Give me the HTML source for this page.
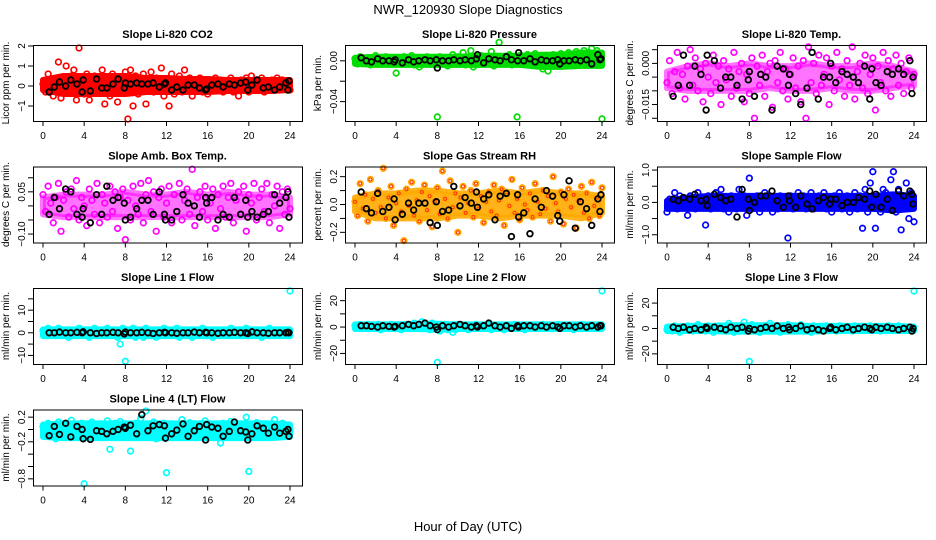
<!DOCTYPE html>
<html><head><meta charset="utf-8">
<style>
html,body{margin:0;padding:0;background:#fff;}
svg{display:block;font-family:"Liberation Sans",sans-serif;}
</style></head>
<body>
<svg id="chart" width="936" height="540" viewBox="0 0 936 540">
<text x="468" y="14" text-anchor="middle" font-size="13">NWR_120930  Slope Diagnostics</text>
<text x="468" y="531" text-anchor="middle" font-size="13">Hour of Day (UTC)</text>
</svg>
<script>
// shared tick labels
const xTicks = [0,4,8,12,16,20,24];
const blackHours = [0.6,1.1,1.6,2.2,2.7,3.3,3.8,3.9,4.6,5.2,5.7,6.2,6.8,7.3,7.9,8.0,8.5,9.1,9.6,10.2,10.7,11.3,11.8,11.9,12.5,13.0,13.6,14.1,14.7,15.2,15.8,15.9,16.4,17.0,17.5,18.1,18.6,19.2,19.7,19.9,20.3,20.8,21.4,21.9,22.5,23.0,23.6,23.8,23.9];
const bandHours = [0,2,4,6,8,10,12,14,16,18,20,22,24];

// panel values (colored = all slopes, black = selected)
const co2 = [0.1,-0.3,0.6,0.2,-0.5,0.3,1.2,-0.6,0.4,1.0,-0.2,0.5,0.8,-0.7,1.9,0.3,-0.4,0.6,-0.7,0.2,0.5,-0.3,0.4,0.8,-0.9,0.3,-0.5,0.6,0.1,-0.8,0.4,-0.2,0.7,-1.65,0.8,-1.0,0.5,-0.4,0.3,0.6,-0.9,0.2,0.7,-0.3,0.4,0.1,0.9,-0.5,0.3,-1.0,0.6,-0.4,0.2,0.5,-0.3,0.8,-0.2,0.4,-0.5,0.3,-0.2,0.4,-0.3,0.2,-0.4,0.3,-0.2,0.4,-0.1,0.3,-0.3,0.2,-0.2,0.4,-0.3,0.1,-0.5,0.3,-0.2,0.4,-0.3,0.5,-0.1,0.3,-0.2,0.4,-0.3,0.2,-0.1,0.3,-0.2,0.4,-0.2,0.3,-0.1,0.2,-0.2];
const co2Black = [-0.3,-0.05,0.2,0.0,0.3,0.1,-0.3,0.3,-0.25,0.35,-0.1,-0.1,0.1,0.35,-0.1,0.15,0.1,0.15,0.1,0.1,0.15,-0.05,0.1,0.15,-0.2,-0.05,-0.2,0.05,0.05,-0.1,-0.2,-0.15,0.05,0.1,-0.05,0.1,0.05,0.15,0.2,-0.2,0.05,0.3,-0.1,-0.05,-0.2,-0.05,0.15,-0.2,0.25];
const co2BandHi = [0.3,0.5,0.5,0.5,0.5,0.4,0.4,0.35,0.35,0.3,0.3,0.3,0.3];
const co2BandLo = [-0.2,-0.4,-0.4,-0.4,-0.4,-0.3,-0.3,-0.3,-0.3,-0.25,-0.25,-0.25,-0.2];

const pres = [0.002,-0.003,0.004,0.000,-0.002,0.003,-0.004,0.001,0.005,-0.002,0.003,-0.001,0.004,-0.003,0.002,0.000,-0.012,0.003,-0.002,0.004,-0.003,0.001,0.005,-0.004,0.002,-0.006,0.003,-0.002,0.004,0.000,-0.003,0.003,-0.055,0.004,-0.002,0.003,-0.005,0.002,0.006,-0.003,0.004,-0.001,0.008,-0.004,0.003,0.010,-0.006,0.002,-0.003,0.005,0.001,-0.002,0.004,0.009,-0.005,0.003,0.018,-0.003,0.004,-0.002,0.006,-0.004,0.003,-0.055,0.005,-0.003,0.002,0.006,-0.004,0.003,0.007,-0.002,0.004,-0.008,0.005,-0.010,0.003,0.006,-0.004,0.002,0.007,-0.005,0.004,0.008,-0.003,0.002,0.009,-0.004,0.006,0.010,-0.002,0.008,0.012,-0.003,0.010,0.006,-0.057];
const presBlack = [0.003,0.000,-0.001,0.002,0.000,0.000,-0.001,0.001,-0.002,0.001,-0.001,0.000,0.001,0.000,0.001,-0.007,0.000,0.000,0.001,0.000,0.001,0.000,0.002,0.006,-0.002,0.002,0.001,0.000,0.004,0.001,0.000,0.008,0.000,0.002,-0.001,0.001,0.000,0.000,0.001,-0.003,0.000,0.000,0.001,0.000,0.001,-0.003,0.006,0.001,0.002];
const presBandHi = [0.003,0.004,0.004,0.004,0.004,0.004,0.005,0.005,0.005,0.006,0.006,0.008,0.008];
const presBandLo = [-0.003,-0.004,-0.004,-0.004,-0.004,-0.004,-0.004,-0.004,-0.004,-0.006,-0.006,-0.005,-0.005];

const temp = [-0.007,0.001,-0.011,-0.003,0.004,-0.009,-0.004,-0.013,-0.001,0.005,-0.008,0.002,-0.010,-0.002,-0.014,0.000,-0.005,-0.011,0.003,-0.007,-0.001,-0.015,0.001,-0.006,-0.002,-0.012,0.004,-0.009,-0.003,0.000,-0.014,-0.004,-0.011,0.002,-0.020,-0.001,-0.008,0.003,-0.012,-0.003,0.000,-0.016,0.001,-0.007,0.004,-0.010,-0.002,-0.013,-0.004,0.002,-0.009,-0.001,-0.014,0.001,-0.020,0.006,-0.007,0.000,-0.011,0.003,-0.008,-0.004,0.002,-0.015,-0.001,-0.010,0.004,-0.006,-0.002,-0.012,0.001,-0.008,0.006,-0.013,-0.003,0.000,-0.009,0.003,-0.011,-0.004,0.002,-0.017,-0.001,-0.007,0.004,-0.010,0.001,-0.012,-0.002,0.003,-0.008,0.000,-0.011,-0.003,0.002,-0.009,-0.004];
const tempBlack = [-0.012,-0.008,0.003,-0.008,-0.001,-0.004,-0.017,0.003,0.001,-0.009,-0.005,-0.005,-0.008,-0.013,-0.006,-0.003,-0.012,-0.004,-0.005,-0.017,-0.001,-0.002,-0.008,-0.004,-0.011,-0.015,-0.009,0.004,-0.013,-0.005,-0.005,0.000,-0.007,-0.003,-0.004,-0.005,-0.007,-0.001,-0.013,-0.002,-0.007,-0.008,-0.003,-0.004,-0.002,-0.004,0.001,-0.011,-0.005];
const tempBandHi = [-0.003,-0.001,0.000,-0.001,0.000,-0.001,-0.001,0.000,-0.001,-0.001,0.000,-0.001,-0.003];
const tempBandLo = [-0.009,-0.010,-0.010,-0.010,-0.010,-0.009,-0.010,-0.010,-0.009,-0.010,-0.010,-0.009,-0.008];

const amb = [0.04,-0.02,0.07,0.01,-0.06,0.03,0.08,-0.09,0.02,0.05,-0.04,0.06,-0.01,0.09,-0.05,0.03,0.00,-0.07,0.06,0.02,-0.03,0.08,-0.06,0.04,0.01,-0.04,0.07,-0.02,0.05,-0.08,0.03,0.06,-0.12,0.02,-0.05,0.07,0.00,-0.03,0.08,-0.06,0.04,0.09,-0.02,0.05,-0.09,0.03,0.06,-0.04,0.01,0.07,-0.06,0.04,-0.02,0.08,-0.05,0.02,0.06,-0.03,0.13,-0.07,0.03,0.05,-0.02,0.07,-0.05,0.01,0.06,-0.08,0.04,-0.01,0.07,-0.04,0.03,0.08,-0.06,0.02,0.05,-0.03,0.07,-0.09,0.04,0.01,0.08,-0.05,0.03,0.06,-0.02,0.08,-0.06,0.04,0.00,0.07,-0.08,0.05,-0.03,0.06,-0.01];
const ambBlack = [-0.03,0.03,-0.01,0.06,0.05,-0.03,-0.04,-0.01,-0.06,0.04,-0.03,0.07,0.02,0.03,0.01,-0.05,-0.04,-0.01,0.02,0.02,-0.03,0.05,-0.03,-0.05,-0.05,-0.02,0.04,0.01,0.00,-0.04,0.03,0.01,0.03,-0.05,-0.03,-0.04,0.03,-0.03,0.02,-0.04,-0.02,-0.04,-0.03,-0.02,0.04,0.01,0.03,0.05,-0.04];
const ambBandHi = [0.03,0.04,0.04,0.04,0.05,0.04,0.04,0.05,0.04,0.05,0.04,0.04,0.03];
const ambBandLo = [-0.03,-0.04,-0.04,-0.04,-0.04,-0.04,-0.04,-0.04,-0.04,-0.04,-0.04,-0.04,-0.03];

const rh = [0.02,-0.08,0.15,-0.03,0.07,-0.12,0.18,0.04,-0.06,0.10,-0.02,0.26,-0.10,0.05,0.13,-0.15,0.01,0.08,-0.05,-0.26,0.11,-0.01,0.16,-0.08,0.03,-0.12,0.09,0.14,-0.04,0.06,-0.16,0.02,0.12,-0.07,0.24,0.04,-0.10,0.17,-0.02,0.08,-0.20,0.05,0.13,-0.06,0.01,0.10,-0.09,0.15,-0.03,0.06,-0.13,0.02,0.09,-0.05,0.14,-0.08,0.03,0.11,-0.15,0.07,-0.01,0.18,-0.06,0.04,-0.11,0.12,0.00,-0.04,0.08,-0.09,0.15,0.02,-0.07,0.10,-0.03,0.06,-0.12,0.20,0.01,-0.05,0.09,-0.14,0.04,0.11,-0.02,0.07,-0.17,0.03,0.13,-0.06,0.08,-0.10,0.16,-0.01,0.05,-0.08,0.12];
const rhBlack = [0.09,-0.03,-0.06,0.08,-0.05,-0.02,0.04,-0.11,-0.07,0.01,-0.04,0.01,0.01,-0.13,0.02,-0.15,-0.05,-0.04,0.13,-0.01,0.05,0.01,0.09,-0.02,0.04,0.07,-0.11,0.06,0.08,-0.23,0.07,-0.09,-0.06,-0.21,0.04,-0.02,0.10,0.06,-0.08,-0.12,0.07,0.17,-0.17,0.02,-0.03,-0.15,0.04,-0.05,0.07];
const rhBandHi = [0.05,0.08,0.08,0.1,0.1,0.08,0.08,0.1,0.08,0.1,0.08,0.08,0.06];
const rhBandLo = [-0.05,-0.1,-0.1,-0.1,-0.1,-0.08,-0.08,-0.1,-0.08,-0.08,-0.08,-0.1,-0.06];

const sflow = [-0.3,0.1,-0.1,0.3,-0.2,0.2,-0.1,0.1,-0.4,0.2,0.0,-0.2,0.3,-0.1,0.1,-0.7,0.2,-0.2,0.1,0.3,-0.1,0.4,-0.2,0.1,-0.3,0.2,0.0,-0.2,0.4,-0.1,0.2,-0.4,0.75,-0.2,0.1,0.2,-0.3,0.0,0.3,-0.1,0.2,-0.3,0.1,-0.2,0.2,0.0,-0.1,-1.1,0.2,-0.2,0.1,0.3,-0.1,0.2,-0.2,0.0,0.3,-0.2,0.1,0.2,-0.1,0.3,-0.2,0.1,-0.3,0.2,0.0,0.3,-0.2,0.1,0.2,-0.3,0.0,0.3,-0.2,0.2,-0.8,0.4,-0.3,0.6,0.95,-0.8,0.2,-0.3,0.4,0.3,-0.2,0.7,0.95,-0.3,0.4,-0.85,0.2,0.6,-0.5,0.3,-0.6];
const sflowBlack = [0.1,0.05,0.15,0.1,0.25,0.05,0.1,-0.1,0.25,0.15,0.05,0.1,-0.45,0.4,0.1,-0.25,0.0,0.2,0.2,0.35,0.05,-0.15,0.2,0.05,-0.15,0.2,-0.05,-0.2,0.05,0.15,-0.05,0.1,0.1,-0.1,0.0,0.0,0.15,0.1,0.35,-0.15,0.25,-0.15,0.1,-0.25,0.35,0.2,0.35,0.25,-0.05];
const sflowBandHi = [0.05,0.15,0.2,0.2,0.2,0.2,0.2,0.2,0.2,0.2,0.2,0.25,0.2];
const sflowBandLo = [-0.2,-0.2,-0.2,-0.2,-0.2,-0.2,-0.2,-0.2,-0.2,-0.2,-0.2,-0.25,-0.2];

const line1 = [1,-1,2,0,-1,1,2,-1,0,1,-2,1,0,-1,2,-1,1,0,-2,1,2,-1,0,1,-1,2,0,-1,1,-2,-5,2,-12.6,1,-1,2,-2,0,1,-2,2,-1,0,1,-2,1,0,2,-1,1,-1,0,2,-2,1,0,-1,1,-2,1,0,-1,2,0,-1,1,-2,1,0,-1,1,0,-1,2,-1,0,1,-1,0,2,-1,1,0,-1,1,-2,1,0,2,-1,1,0,-1,1,0,-1,18.5];
const line1Black = [0,0,0.3,0,0,0.2,0,0.4,0,-0.3,0,0,0.2,0,-0.5,0.3,0,0,0.2,0,-0.3,0,0.2,0,0,-0.2,0,0,0.3,0,0.2,0,0,-0.2,0,0,0.2,0,0,-0.3,0.4,0,0,-0.2,0,0,0,0.2,0];
const line1BandHi = [1.5,1.5,1.5,1.5,1.5,1.5,1.5,1.5,1.5,1.5,1.5,1.5,1.5];
const line1BandLo = [-1.5,-1.5,-1.5,-1.5,-1.5,-1.5,-1.5,-1.5,-1.5,-1.5,-1.5,-1.5,-1.5];
const line2 = [1,-1,2,0,-1,2,1,-1,0,2,-2,1,0,-1,2,-1,1,0,-2,1,2,-1,0,3,-1,2,4,-1,1,-2,3,2,-26.8,-3,-1,2,-2,0,-4,-2,2,-1,0,1,-2,1,0,2,-1,1,-1,0,2,-2,1,0,-1,1,-2,1,0,-1,2,0,-1,1,-2,1,0,-1,1,0,-1,2,-1,0,1,-1,0,2,-1,1,0,-1,1,-2,1,0,2,-1,1,0,-1,1,0,-1,27.4];
const line2Black = [1,1,0.5,0,1,0.5,0,0.5,1,2,1,2,3,1,0,-2,1,0,1,2,1,0,1,0,1,3,1,0,1,-1,1,0,1,1,0,1,0,1,0,-1,1,1,0,1,0,1,0,1,1];
const line2BandHi = [2,2,2,2.5,2.5,2,2,2,2,2,2,2,2];
const line2BandLo = [-1.5,-1.5,-1.5,-1.5,-2,-1.5,-1.5,-1.5,-1.5,-1.5,-1.5,-1.5,-1.5];
const line3 = [-1,1,-2,2,0,-3,1,-1,2,0,-2,1,3,-1,0,-2,2,1,-3,0,2,-1,1,-2,4,0,-3,2,1,-1,5,-2,-26,3,-1,2,-3,0,1,-2,4,-1,0,2,-3,1,0,3,-1,2,-2,0,3,-2,1,0,-3,2,-1,1,0,-2,2,0,-1,1,-2,2,0,-1,1,0,-2,2,-1,0,1,-1,0,2,-1,1,0,-2,1,-1,2,0,1,-1,2,0,-1,1,0,-1,29.5];
const line3Black = [1,0,1,-1,0,-1,1,0,1,0,-1,1,0,1,-2,0,-1,0,1,0,2,0,1,-1,0,2,-1,0,-1,-2,0,1,-1,0,1,-1,0,1,0,-1,1,0,1,0,-1,0,1,-2,0];
const line3BandHi = [1.5,2,2,2.5,2.5,2.5,2.5,2,2,2,2,2,1.5];
const line3BandLo = [-2,-2,-2,-2.5,-2.5,-2.5,-2.5,-2.5,-2,-2,-2,-2,-2];
const line4 = [0.05,-0.10,0.10,-0.05,0.02,-0.15,0.12,-0.02,0.08,-0.12,0.04,0.15,-0.06,0.00,-0.13,0.10,-0.88,0.06,-0.08,0.12,-0.03,0.05,-0.10,0.08,-0.05,0.14,-0.32,0.02,0.10,-0.06,0.13,-0.08,0.04,-0.12,-0.35,0.06,0.10,-0.04,0.18,-0.02,0.30,-0.09,0.07,0.12,-0.15,0.03,-0.05,0.10,-0.70,0.02,0.08,-0.10,0.05,-0.03,0.16,-0.07,0.04,0.11,-0.12,0.06,-0.02,0.09,-0.05,0.14,-0.08,0.02,-0.10,0.07,-0.04,-0.22,0.10,-0.06,0.04,0.13,-0.09,0.01,-0.12,0.08,-0.03,0.20,-0.68,0.05,-0.08,0.11,-0.02,0.06,-0.12,0.09,0.01,-0.05,0.16,-0.07,0.03,0.10,-0.11,0.05,-0.02];
const line4Black = [-0.1,0.05,-0.08,0.1,-0.12,0.05,0.0,-0.15,-0.16,-0.02,-0.03,-0.07,-0.03,0.0,0.04,0.02,0.07,-0.07,0.24,-0.02,0.06,0.08,0.06,-0.14,-0.07,-0.01,0.09,-0.11,-0.02,0.05,-0.17,0.08,0.04,0.02,-0.11,-0.03,0.12,-0.02,-0.04,-0.17,-0.07,0.06,0.02,-0.06,0.04,-0.06,-0.03,0.0,-0.11];
const line4BandHi = [0.08,0.1,0.1,0.1,0.1,0.1,0.1,0.1,0.1,0.1,0.1,0.1,0.08];
const line4BandLo = [-0.12,-0.14,-0.14,-0.14,-0.14,-0.14,-0.14,-0.14,-0.14,-0.14,-0.14,-0.14,-0.12];

// tick arrays per panel
const co2Ticks=[-1,0,1,2], co2Labels=["-1","0","1","2"];
const presTicks=[0,-0.02,-0.04], presLabels=["0.00","","-0.04"];
const tempTicks=[0.005,0,-0.005,-0.01,-0.015,-0.02], tempLabels=["","0.000","","","-0.015",""];
const ambTicks=[0.1,0.05,0,-0.05,-0.1], ambLabels=["","0.05","","","-0.10"];
const rhTicks=[0.2,0.1,0,-0.1,-0.2], rhLabels=["0.2","","0.0","","-0.2"];
const sfTicks=[1,0.5,0,-0.5,-1], sfLabels=["1.0","","0.0","","-1.0"];
const l1Ticks=[15,10,5,0,-5,-10], l1Labels=["","10","","0","","-10"];
const l2Ticks=[20,10,0,-10,-20], l2Labels=["20","","0","","-20"];
const l3Ticks=[20,10,0,-10,-20], l3Labels=["20","","0","","-20"];
const l4Ticks=[0.2,0,-0.2,-0.4,-0.6,-0.8], l4Labels=["0.2","","-0.2","","","-0.8"];

const panels = [
 {name:"co2",title:"Slope Li-820 CO2",ylab:"Licor ppm per min.",col:0,row:0,ymin:-1.75,ymax:2.05,vals:co2,blk:co2Black,hi:co2BandHi,lo:co2BandLo,op:1,color:"#ff0000",ticks:co2Ticks,labels:co2Labels},
 {name:"pressure",title:"Slope Li-820 Pressure",ylab:"kPa per min.",col:1,row:0,ymin:-0.059,ymax:0.0155,vals:pres,blk:presBlack,hi:presBandHi,lo:presBandLo,op:1,color:"#00dd00",ticks:presTicks,labels:presLabels},
 {name:"temp",title:"Slope Li-820 Temp.",ylab:"degrees C per min.",col:2,row:0,ymin:-0.021,ymax:0.0067,vals:temp,blk:tempBlack,hi:tempBandHi,lo:tempBandLo,op:0.55,color:"#ff00ff",ticks:tempTicks,labels:tempLabels},
 {name:"amb-box-temp",title:"Slope Amb. Box Temp.",ylab:"degrees C per min.",col:0,row:1,ymin:-0.13,ymax:0.14,vals:amb,blk:ambBlack,hi:ambBandHi,lo:ambBandLo,op:0.55,color:"#ff00ff",ticks:ambTicks,labels:ambLabels},
 {name:"gas-stream-rh",title:"Slope Gas Stream RH",ylab:"percent per min.",col:1,row:1,ymin:-0.273,ymax:0.273,vals:rh,blk:rhBlack,hi:rhBandHi,lo:rhBandLo,op:0.9,color:"#ffaa00",ticks:rhTicks,labels:rhLabels},
 {name:"sample-flow",title:"Slope Sample Flow",ylab:"ml/min per min.",col:2,row:1,ymin:-1.24,ymax:1.11,vals:sflow,blk:sflowBlack,hi:sflowBandHi,lo:sflowBandLo,op:1,color:"#0000ff",ticks:sfTicks,labels:sfLabels},
 {name:"line1-flow",title:"Slope Line 1 Flow",ylab:"ml/min per min.",col:0,row:2,ymin:-13.8,ymax:19.8,vals:line1,blk:line1Black,hi:line1BandHi,lo:line1BandLo,op:1,color:"#00ffff",ticks:l1Ticks,labels:l1Labels},
 {name:"line2-flow",title:"Slope Line 2 Flow",ylab:"ml/min per min.",col:1,row:2,ymin:-28,ymax:29.6,vals:line2,blk:line2Black,hi:line2BandHi,lo:line2BandLo,op:1,color:"#00ffff",ticks:l2Ticks,labels:l2Labels},
 {name:"line3-flow",title:"Slope Line 3 Flow",ylab:"ml/min per min.",col:2,row:2,ymin:-28,ymax:31.9,vals:line3,blk:line3Black,hi:line3BandHi,lo:line3BandLo,op:1,color:"#00ffff",ticks:l3Ticks,labels:l3Labels},
 {name:"line4-flow",title:"Slope Line 4 (LT) Flow",ylab:"ml/min per min.",col:0,row:3,ymin:-0.908,ymax:0.324,vals:line4,blk:line4Black,hi:line4BandHi,lo:line4BandLo,op:1,color:"#00ffff",ticks:l4Ticks,labels:l4Labels}
];

const NS="http://www.w3.org/2000/svg";
const svg=document.getElementById("chart");
function mk(tag,attrs,parent){const e=document.createElementNS(NS,tag);for(const k in attrs)e.setAttribute(k,attrs[k]);parent.appendChild(e);return e;}

panels.forEach(p=>{
  const left=33+312*p.col, right=left+269;
  const top=45+121.5*p.row, bottom=top+76;
  const xs=h=>43+312*p.col+h*(247/24);
  const ys=v=>top+(p.ymax-v)/(p.ymax-p.ymin)*76;
  const g=mk("g",{},svg);
  
  

  const t=mk("text",{x:(left+right)/2,y:top-7,"text-anchor":"middle","font-size":"11","font-weight":"bold"},g);
  t.textContent=p.title;
  
  

  const yl=mk("text",{transform:`translate(${left-24},${(top+bottom)/2}) rotate(-90)`,"text-anchor":"middle","font-size":"10"},g);
  yl.textContent=p.ylab;
  
  

  // dense band of overlapping points
  let pts=bandHours.map((h,i)=>xs(h)+","+ys(p.hi[i]));
  pts=pts.concat(bandHours.slice().reverse().map((h,j)=>{const i=bandHours.length-1-j;return xs(h)+","+ys(p.lo[i]);}));
  const band=mk("polygon",{points:pts.join(" "),fill:p.color,stroke:p.color,"stroke-width":"6","stroke-linejoin":"round","fill-opacity":p.op,"stroke-opacity":p.op},g);
  
  

  // colored points
  const n=p.vals.length;
  p.vals.forEach((v,i)=>{
    const h=i*24/(n-1);
    const c=mk("circle",{cx:xs(h),cy:ys(v),r:2.8,fill:"none",stroke:p.color,"stroke-width":"1.7"},g);
    
    
    if(p.name==="gas-stream-rh"){
      const c2=mk("circle",{cx:xs(h),cy:ys(v),r:1.5,fill:"none",stroke:"#ff3300","stroke-width":"1"},g);
      
      
    }
  });
  // black points
  p.blk.forEach((v,i)=>{
    const c=mk("circle",{cx:xs(blackHours[i]),cy:ys(v),r:2.8,fill:"none",stroke:"#000","stroke-width":"1.8"},g);
    
    
  });

  const box=mk("rect",{x:left+0.5,y:top+0.5,width:269,height:76,fill:"none",stroke:"#000","stroke-width":"1"},g);
  
  

  // x axis
  mk("line",{x1:xs(0),x2:xs(24),y1:bottom+0.5,y2:bottom+0.5,stroke:"#000"},g);
  xTicks.forEach(h=>{
    mk("line",{x1:xs(h),x2:xs(h),y1:bottom,y2:bottom+5,stroke:"#000"},g);
    const lt=mk("text",{x:xs(h),y:bottom+18,"text-anchor":"middle","font-size":"10"},g);
    lt.textContent=String(h);
    
    
  });
  // y axis
  p.ticks.forEach((v,i)=>{
    const y=ys(v);
    mk("line",{x1:left-5,x2:left,y1:y,y2:y,stroke:"#000"},g);
    if(p.labels[i]){
      const lt=mk("text",{transform:`translate(${left-8},${y}) rotate(-90)`,"text-anchor":"middle","font-size":"10"},g);
      lt.textContent=p.labels[i].replace("-","\u2212");
      
      
    }
  });
});
</script>
</body></html>
